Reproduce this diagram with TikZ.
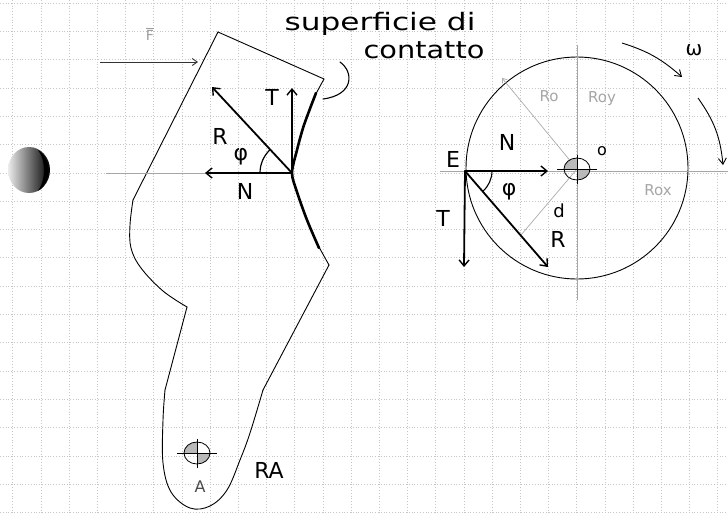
\documentclass[tikz,border=0pt]{standalone}
\usepackage{fontspec}
\setmainfont{DejaVu Sans}
\usetikzlibrary{arrows.meta}
\begin{document}
\begin{tikzpicture}[x=1pt,y=-1pt,
  gridline/.style={gray!45, line width=0.6pt, dash pattern=on 1pt off 1.8pt},
  outline/.style={black, line width=0.9pt, line join=round, line cap=round},
  contact/.style={black, line width=2.6pt, line cap=round},
  force/.style={black, line width=1.8pt, line cap=round,
    -{Straight Barb[length=6pt,width=10pt,line width=1.4pt]}},
  thinaxis/.style={gray!70, line width=0.8pt},
  pencil/.style={gray!65, line width=0.7pt},
  lbl/.style={font=\fontsize{22}{22}\selectfont, inner sep=0pt},
  faint/.style={font=\fontsize{15}{15}\selectfont, text=gray!70, inner sep=0pt},
  hand/.style={font=\fontsize{24}{26}\selectfont, inner sep=0pt},
  hubmark/.pic={
    \fill[gray!55] (0,0) -- (-13,0) arc[start angle=180, end angle=270, x radius=13, y radius=11] -- cycle;
    \fill[gray!55] (0,0) -- (13,0) arc[start angle=0, end angle=90, x radius=13, y radius=11] -- cycle;
    \draw[line width=0.8pt] (0,0) ellipse[x radius=13, y radius=11];
    \draw[line width=0.6pt] (-20,0) -- (20,0) (0,-14) -- (0,15);
  },
]
\useasboundingbox (0,0) rectangle (728,515);
\fill[white] (0,0) rectangle (728,515);

% squared paper
\foreach \i in {0,...,25}
  \draw[gridline] ({12.7+28.2*\i},0) -- ({12.7+28.2*\i},515);
\foreach \j in {0,...,18}
  \draw[gridline] (0,{3+28.3*\j}) -- (728,{3+28.3*\j});

% ball on the left
\shade[left color=gray!15, middle color=gray!50, right color=black]
  (29,170) ellipse[x radius=21, y radius=23];
\fill[black] (38,150) .. controls (52,158) and (52,183) .. (38,191)
  .. controls (46,180) and (46,160) .. (38,150);

% ---------------- brake shoe ----------------
\draw[outline] (218,32) -- (324,79);
\draw[outline] (329,265) -- (263,390);
\draw[outline] plot[smooth, tension=0.6] coordinates {(263,390) (250,433) (240,460) (227,490) (210,506) (190,508) (171,492) (163,463) (163,420) (165,390)};
\draw[outline] (165,390) -- (187,307);
\draw[outline] plot[smooth, tension=0.6] coordinates {(187,307) (163,291) (141,268) (131,248) (130,225) (133,200)};
\draw[outline] (133,200) -- (218,32);
% contact surface
\draw[outline] plot[smooth] coordinates {(324,79) (313,100) (304,125) (297,150) (292,173) (297,192) (307,220) (317,243) (329,265)};
\draw[contact] plot[smooth] coordinates {(316,93) (304,125) (297,150) (292,173) (297,192) (307,220) (319,248)};

% pivot A
\pic at (197,453) {hubmark};
\node[font=\fontsize{16}{16}\selectfont, text=gray!60!black, inner sep=0pt] (lblA) at (200,487) {A};
\node[lbl] (lblRA) at (269,470) {RA};

% applied force F
\coordinate (Fs) at (100,62);
\coordinate (Fe) at (198,62);
\draw[gray!40!black, line width=0.9pt, -{Straight Barb[length=5pt,width=7pt]}] (Fs) -- (Fe);
\node[font=\fontsize{14}{14}\selectfont, text=gray!75, inner sep=0pt] (lblF) at (150,34) {$\overline{\mathrm{F}}$};

% label of the contact surface
\node[hand] (sup1) at (380,24) {\scalebox{1.3}[1]{superficie di}};
\node[hand] (sup2) at (424,50) {\scalebox{1.2}[1]{contatto}};
\draw[outline, line width=1.1pt] (340,62) .. controls (354,72) and (354,95) .. (323,99);

% forces on the shoe
\coordinate (C) at (292,173);
\coordinate (CN) at (205,173);
\coordinate (CT) at (292,88);
\coordinate (CR) at (212,87);
\draw[thinaxis] (106,173) -- (C);
\draw[force] (C) -- (CN);
\draw[force] (C) -- (CT);
\draw[force] (C) -- (CR);
\draw[black, line width=1.2pt] ([shift={(180:32)}]C) arc[start angle=180, end angle=227, radius=32];
\node[lbl] (lT1) at (272,97) {T};
\node[lbl] (lR1) at (220,136) {R};
\node[lbl] (lphi1) at (241,157) {φ};
\node[lbl] (lN1) at (245,191) {N};

% ---------------- drum ----------------
\coordinate (O) at (577,169);
\draw[outline] (577,168) circle[radius=111];
\draw[thinaxis] (440,171) -- (728,171);
\draw[thinaxis] (577,45) -- (577,300);
\draw[pencil, -{Straight Barb[length=4pt,width=6pt]}] (O) -- (502,78);
\draw[pencil] (O) -- (521,235);
\pic at (O) {hubmark};
\node[font=\fontsize{16}{16}\selectfont, inner sep=0pt] (lO) at (602,151) {o};
\node[faint] (lRo) at (549,96) {Ro};
\node[faint] (lRoy) at (602,99) {Roy};
\node[faint] (lRox) at (658,190) {Rox};

% forces on the drum
\coordinate (E) at (465,171);
\coordinate (EN) at (548,171);
\coordinate (ET) at (464,267);
\coordinate (ER) at (548,267);
\draw[force] (E) -- (EN);
\draw[force] (E) -- (ET);
\draw[force] (E) -- (ER);
\draw[black, line width=1.1pt] ([shift={(0:27)}]E) arc[start angle=0, end angle=49, radius=27];
\node[lbl] (lE) at (453,159) {E};
\node[lbl] (lN2) at (507,142) {N};
\node[lbl] (lphi2) at (509,192) {φ};
\node[lbl] (lT2) at (443,218) {T};
\node[lbl] (lR2) at (558,239) {R};
\node[font=\fontsize{18}{18}\selectfont, inner sep=0pt] (ld) at (559,211) {d};

% rotation
\draw[black, line width=0.9pt, -{Straight Barb[length=6pt,width=8pt]}] (622,43) to[bend left=12] (682,77);
\draw[black, line width=0.9pt, -{Straight Barb[length=6pt,width=8pt]}] (698,98) to[bend left=15] (723,165);
\node[font=\fontsize{20}{20}\selectfont, inner sep=0pt] (lw) at (694,50) {ω};
\end{tikzpicture}
\end{document}
